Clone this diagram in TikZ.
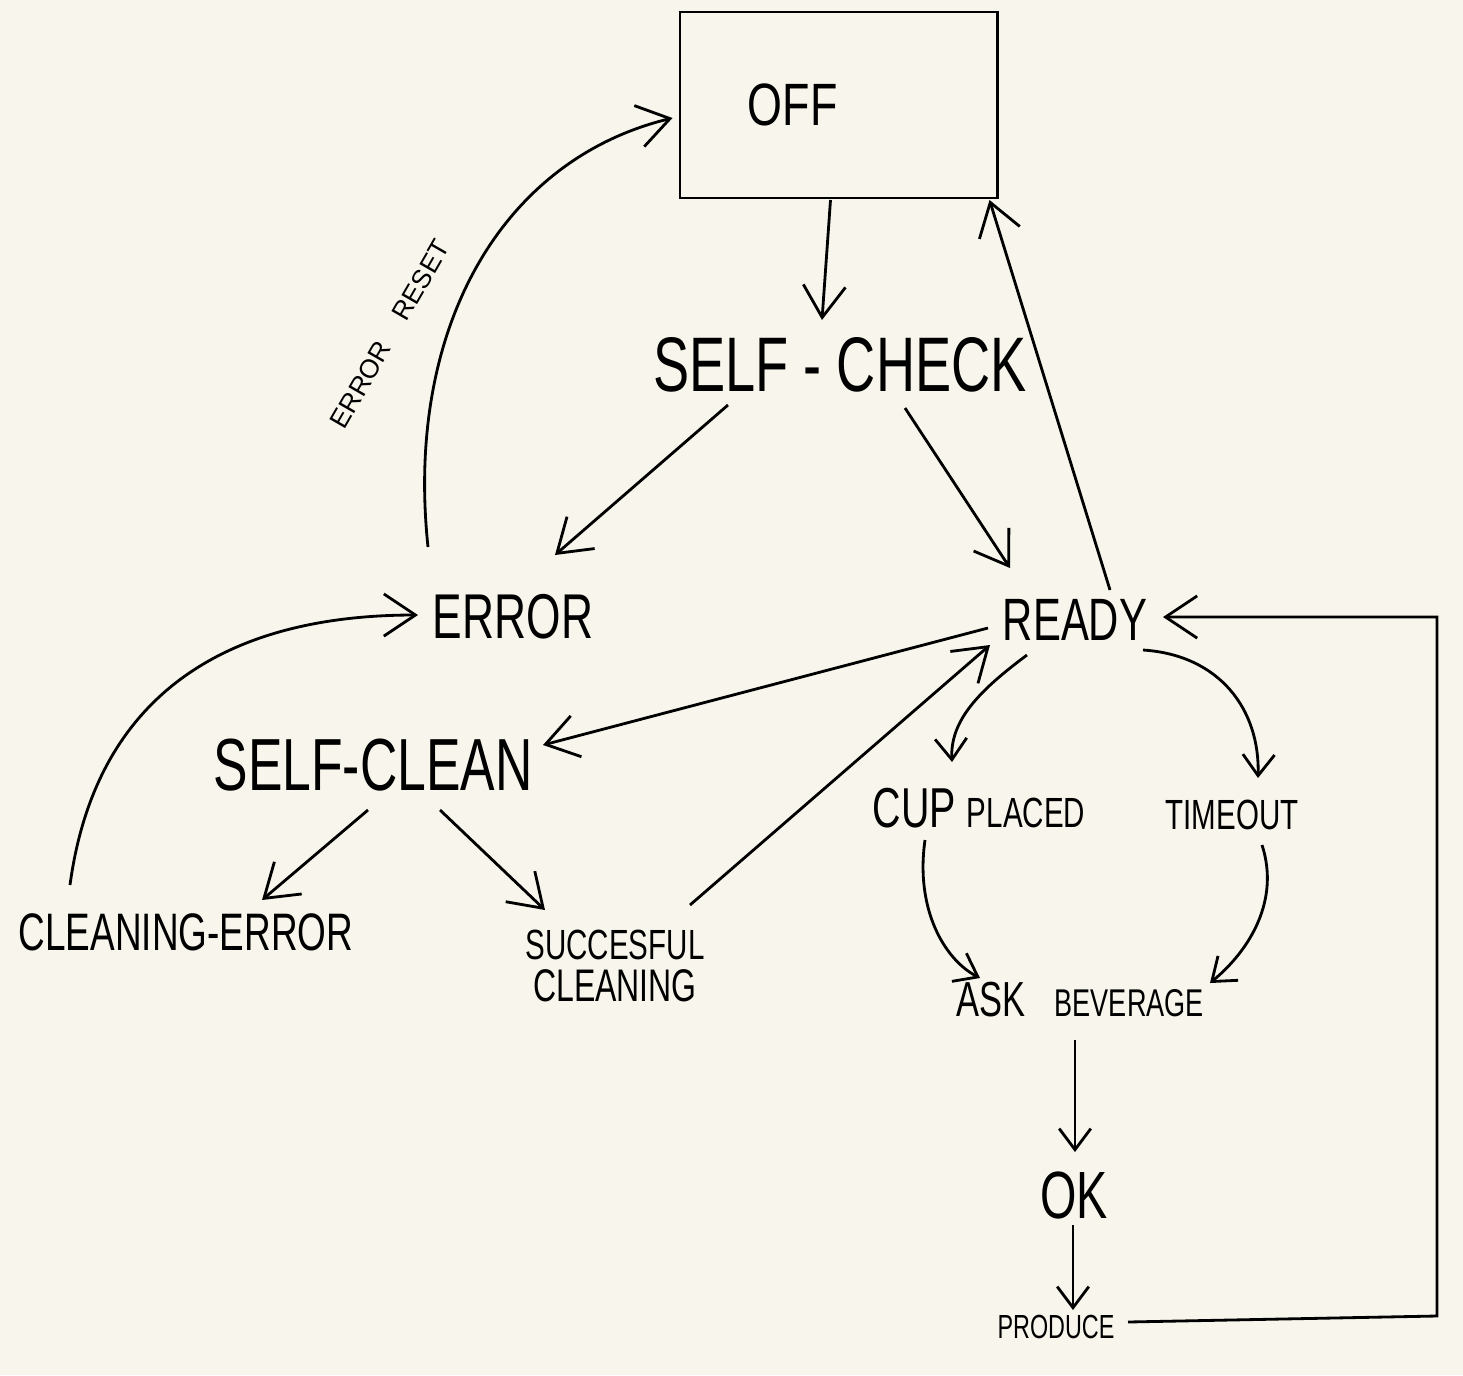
\documentclass[tikz,border=0pt]{standalone}
\usepackage{fontspec}
\setmainfont{Liberation Sans}
\usetikzlibrary{arrows.meta,calc}
\definecolor{paper}{RGB}{248,246,236}
\newcommand{\fs}[1]{\fontsize{#1}{#1}\selectfont}
\begin{document}
\begin{tikzpicture}[x=0.01cm,y=-0.01cm,line width=0.8pt,
  state/.style={xscale=0.7,inner sep=2pt,text=black},
  box/.style={draw,minimum width=3.17cm,minimum height=1.86cm,inner sep=0pt},
  arr/.style={-{Straight Barb[length=9pt,width=12pt]}},
  sarr/.style={-{Straight Barb[length=6pt,width=9pt]}}]
    \fill[paper] (0,0) rectangle (1463,1375);
    \useasboundingbox (0,0) rectangle (1463,1375);
    \node[box] (off) at (838.5,105) {\fs{17}\scalebox{0.75}[1]{OFF}\rule{26pt}{0pt}};
    \node[state] (check) at (840,365) {\fs{22}SELF - CHECK};
    \node[state] (err) at (513,617) {\fs{18}ERROR};
    \node[state] (ready) at (1075,620) {\fs{17}READY};
    \node[state] (clean) at (373,765) {\fs{21}SELF-CLEAN};
    \node[state] (cerr) at (186,932) {\fs{15}CLEANING-ERROR};
    \node[state,align=center] (succ) at (615,966) {\fontsize{12}{15}\selectfont SUCCESFUL\\\fs{13}CLEANING};
    \node[state] (cup) at (979,808) {\fs{16}CUP \fs{12}PLACED};
    \node[state] (tout) at (1232,815) {\fs{12}TIMEOUT};
    \node[state] (ask) at (1080,1000) {\fs{14}ASK\hspace{12pt}\fs{11}BEVERAGE};
    \node[state] (ok) at (1074,1195) {\fs{19}OK};
    \node[state] (prod) at (1056,1327) {\fs{9.5}PRODUCE};
    \node[rotate=60,inner sep=1pt] (reset) at (390,334) {\fs{7.5}ERROR\hspace{1.1em}RESET};
    \draw[arr] ($(off)+(-8,95)$) -- ($(check)+(-18,-45)$);
    \draw[arr] ($(check)+(-112,40)$) -- ($(err)+(42,-62)$);
    \draw[arr] ($(check)+(65,43)$) -- ($(ready)+(-65,-52)$);
    \draw[arr] ($(ready)+(35,-30)$) -- ($(off)+(151,95)$);
    \draw[arr] ($(err)+(-85,-70)$) .. controls (405,330) and (500,160) .. ($(off)+(-166,13)$);
    \draw[arr] ($(cerr)+(-116,-47)$) .. controls (95,700) and (220,615) .. ($(err)+(-95,-2)$);
    \draw[arr] ($(ready)+(-87,8)$) -- ($(clean)+(170,-20)$);
    \draw[arr] ($(clean)+(-5,45)$) -- ($(cerr)+(76,-32)$);
    \draw[arr] ($(clean)+(67,45)$) -- ($(succ)+(-70,-56)$);
    \draw[arr] ($(succ)+(75,-61)$) -- ($(ready)+(-85,25)$);
    \draw[sarr] ($(ready)+(-48,35)$) .. controls (980,690) and (950,720) .. ($(cup)+(-27,-46)$);
    \draw[sarr] ($(ready)+(68,30)$) .. controls (1220,655) and (1260,710) .. ($(tout)+(26,-37)$);
    \draw[sarr] ($(cup)+(-54,32)$) .. controls (915,910) and (945,960) .. ($(ask)+(-100,-22)$);
    \draw[sarr] ($(tout)+(30,30)$) .. controls (1280,900) and (1250,950) .. ($(ask)+(130,-17)$);
    \draw[sarr] ($(ask)+(-5,40)$) -- ($(ok)+(1,-43)$);
    \draw[sarr] ($(ok)+(-1,30)$) -- ($(prod)+(17,-17)$);
    \draw[arr] ($(prod)+(72,-5)$) -- ($(prod)+(381,-11)$) |- ($(ready)+(88,-3)$);
\end{tikzpicture}
\end{document}
